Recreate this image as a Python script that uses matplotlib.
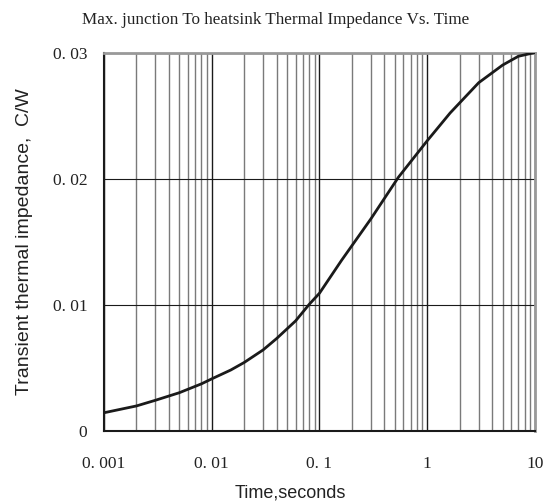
import matplotlib
matplotlib.use("Agg")
import matplotlib.pyplot as plt
from matplotlib.ticker import FixedLocator, LogLocator, NullFormatter

# Data
time_s = [0.001, 0.002, 0.003, 0.005, 0.008, 0.01, 0.015, 0.02, 0.03, 0.04,
          0.06, 0.08, 0.1, 0.16, 0.3, 0.54, 1, 1.63, 3, 5, 7, 10]
impedance = [0.00141, 0.00195, 0.0024, 0.0030, 0.0037, 0.0041, 0.0048, 0.0054,
             0.0064, 0.0073, 0.0087, 0.0100, 0.0109, 0.0135, 0.0168, 0.0201,
             0.0230, 0.0252, 0.0276, 0.0290, 0.0297, 0.0300]

x_ticks = [0.001, 0.01, 0.1, 1, 10]
x_labels = ["0. 001", "0. 01", "0. 1", "1", "10"]
y_ticks = [0, 0.01, 0.02, 0.03]
y_labels = ["0", "0. 01", "0. 02", "0. 03"]

title = "Max. junction To heatsink Thermal Impedance Vs. Time"
xlabel = "Time,seconds"
ylabel = "Transient thermal impedance,  C/W"

fig = plt.figure(figsize=(5.52, 5.04), dpi=100)
ax = fig.add_axes([0.1884, 0.1458, 0.7808, 0.75])

ax.plot(time_s, impedance, color="#1a1a1a", lw=2, zorder=3)

ax.set_xscale("log")
ax.set_xlim(0.001, 10)
ax.set_ylim(0, 0.03)

ax.xaxis.set_major_locator(FixedLocator(x_ticks))
ax.set_xticklabels(x_labels)
ax.xaxis.set_minor_locator(LogLocator(base=10, subs=range(2, 10)))
ax.xaxis.set_minor_formatter(NullFormatter())
ax.set_yticks(y_ticks)
ax.set_yticklabels(y_labels)

# grid
ax.grid(which="major", axis="x", color="#1a1a1a", lw=1)
ax.grid(which="minor", axis="x", color="#7a7a7a", lw=1)
ax.grid(which="major", axis="y", color="#1a1a1a", lw=0.8)

ax.tick_params(which="both", length=0)
ax.tick_params(axis="x", pad=18)
ax.tick_params(axis="y", pad=12)
for lab in ax.get_xticklabels() + ax.get_yticklabels():
    lab.set_fontfamily("Liberation Serif")
    lab.set_fontsize(12.5)
    lab.set_color("#222222")

for side in ["left", "bottom"]:
    ax.spines[side].set_color("#1a1a1a")
    ax.spines[side].set_linewidth(1.5)
for side in ["top", "right"]:
    ax.spines[side].set_color("#999999")
    ax.spines[side].set_linewidth(2)

fig.text(276 / 552, 1 - 20 / 504, title, ha="center", va="center",
         family="Liberation Serif", fontsize=12.3, color="#222222")
fig.text(290 / 552, 1 - 493 / 504, xlabel, ha="center", va="center",
         family="Liberation Sans", fontsize=13, color="#222222")
fig.text(25 / 552, 1 - 242 / 504, ylabel, ha="center", va="center", rotation=90,
         family="Liberation Sans", fontsize=14, color="#222222")

fig.savefig("out.png", dpi=100)
plt.close(fig)
